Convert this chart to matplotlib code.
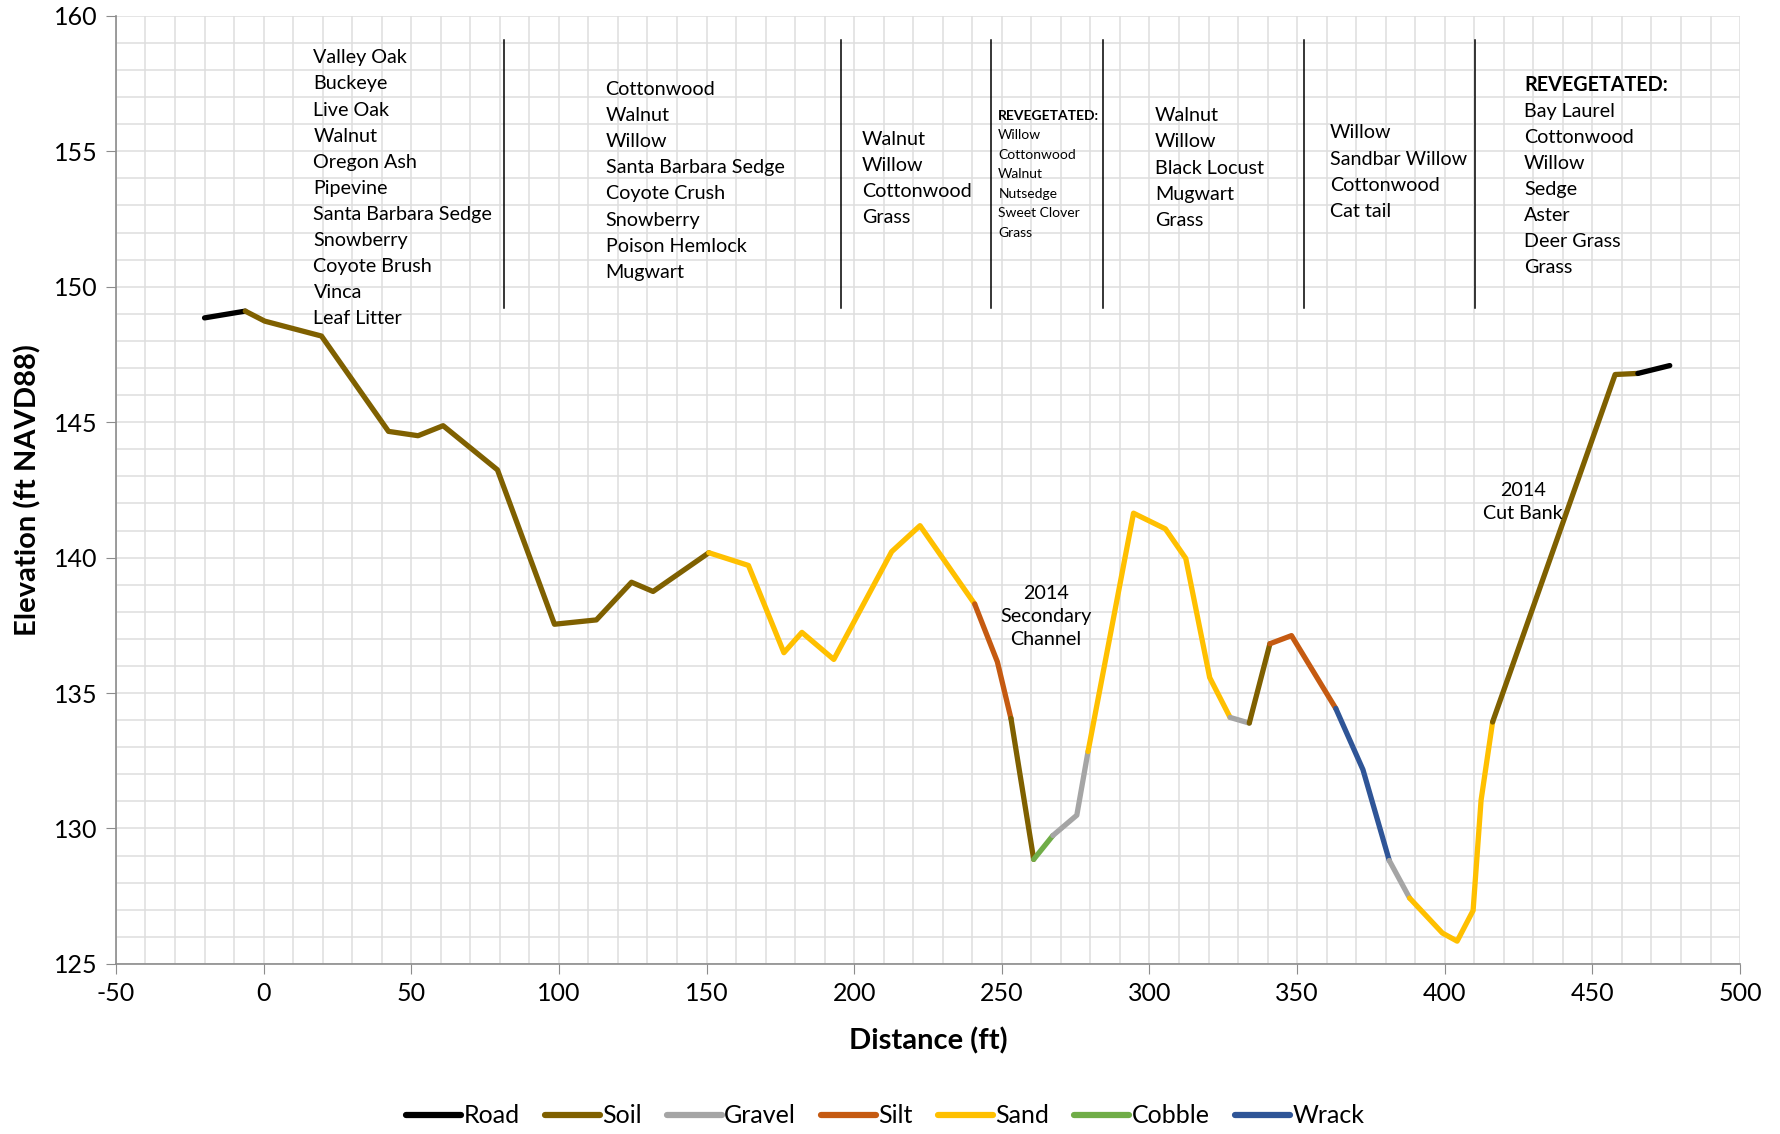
import numpy as np
import matplotlib.pyplot as plt
from matplotlib.lines import Line2D
from matplotlib.ticker import MultipleLocator

plt.rcParams['font.family'] = ['Lato', 'DejaVu Sans']
plt.rcParams['axes.unicode_minus'] = False

# cross-section profile (ft)
dist = [-20, -6.2, 0.4, 19.6, 42.3, 52.3, 60.8, 79.2, 98.5, 112.7, 124.6, 131.9,
        150.8, 164.2, 176.2, 182.3, 193.1, 212.7, 222.3, 240.8, 248.5, 253.1,
        260.8, 267.3, 275.4, 279.2, 294.6, 305.4, 312.3, 320.4, 327.3, 333.8,
        340.8, 348.1, 363.1, 372.3, 381.2, 388.1, 399.2, 404.2, 409.6, 412.3,
        416.2, 457.7, 465.4, 476.2]
elev = [148.85, 149.1, 148.73, 148.18, 144.66, 144.5, 144.87, 143.24, 137.54,
        137.7, 139.09, 138.75, 140.18, 139.71, 136.49, 137.24, 136.24, 140.22,
        141.18, 138.29, 136.15, 134.06, 128.86, 129.74, 130.49, 132.84, 141.64,
        141.06, 139.97, 135.57, 134.1, 133.89, 136.82, 137.12, 134.43, 132.17,
        128.82, 127.43, 126.14, 125.84, 126.97, 131.04, 133.93, 146.76, 146.8,
        147.09]

# material of each run of segments (material, number of segments)
runs = [('Road', 1), ('Soil', 11), ('Sand', 7), ('Silt', 2), ('Soil', 1),
        ('Cobble', 1), ('Gravel', 2), ('Sand', 5), ('Gravel', 1), ('Soil', 1),
        ('Silt', 2), ('Wrack', 2), ('Gravel', 1), ('Sand', 5), ('Soil', 2),
        ('Road', 1)]

materials = ['Road', 'Soil', 'Gravel', 'Silt', 'Sand', 'Cobble', 'Wrack']
colors = {'Road': '#000000', 'Soil': '#7F6000', 'Gravel': '#A5A5A5',
          'Silt': '#C55A11', 'Sand': '#FFC000', 'Cobble': '#70AD47',
          'Wrack': '#2F5597'}

# vegetation zone boundaries
zone_x = [81.5, 195.4, 246.2, 284.2, 352.3, 410.4]
zone_top, zone_bot = 159.1, 149.2

veg_blocks = [
    (16.9, 158.45, ['Valley Oak', 'Buckeye', 'Live Oak', 'Walnut', 'Oregon Ash',
                    'Pipevine', 'Santa Barbara Sedge', 'Snowberry', 'Coyote Brush',
                    'Vinca', 'Leaf Litter'], False),
    (115.8, 157.28, ['Cottonwood', 'Walnut', 'Willow', 'Santa Barbara Sedge',
                     'Coyote Crush', 'Snowberry', 'Poison Hemlock', 'Mugwart'], False),
    (202.7, 155.43, ['Walnut', 'Willow', 'Cottonwood', 'Grass'], False),
    (248.8, 156.31, ['REVEGETATED:', 'Willow', 'Cottonwood', 'Walnut', 'Nutsedge',
                     'Sweet Clover', 'Grass'], True),
    (301.9, 156.31, ['Walnut', 'Willow', 'Black Locust', 'Mugwart', 'Grass'], False),
    (361.2, 155.68, ['Willow', 'Sandbar Willow', 'Cottonwood', 'Cat tail'], False),
    (426.9, 157.44, ['REVEGETATED:', 'Bay Laurel', 'Cottonwood', 'Willow', 'Sedge',
                     'Aster', 'Deer Grass', 'Grass'], False),
]

fig = plt.figure(figsize=(17.81, 11.34), dpi=100)
ax = fig.add_axes([0.0651, 0.150, 0.9119, 0.836])

ax.set_xlim(-50, 500)
ax.set_ylim(125, 160)
ax.xaxis.set_major_locator(MultipleLocator(50))
ax.xaxis.set_minor_locator(MultipleLocator(10))
ax.yaxis.set_major_locator(MultipleLocator(5))
ax.yaxis.set_minor_locator(MultipleLocator(1))
ax.grid(True, which='both', color='#dedede', lw=1.1, zorder=0)
ax.set_axisbelow(True)
for s in ['top', 'right']:
    ax.spines[s].set_visible(False)
for s in ['left', 'bottom']:
    ax.spines[s].set_color('#8c8c8c')
    ax.spines[s].set_linewidth(1.2)
ax.tick_params(which='major', direction='out', length=7, color='#8c8c8c',
               labelsize=18, pad=6)
ax.tick_params(which='minor', length=0)

# profile, coloured by surface material
i = 0
for mat, n in runs:
    ax.plot(dist[i:i + n + 1], elev[i:i + n + 1], color=colors[mat], lw=3.8,
            solid_capstyle='round', solid_joinstyle='round', zorder=3)
    i += n

for zx in zone_x:
    ax.plot([zx, zx], [zone_bot, zone_top], color='black', lw=1.1, zorder=2)

big_step = 0.964
small_step = 0.72
for x0, y0, lines, small in veg_blocks:
    step = small_step if small else big_step
    for k, line in enumerate(lines):
        bold = line.startswith('REVEGETATED')
        ax.text(x0, y0 - k * step, line, va='center', ha='left',
                fontsize=10 if small else 14.2,
                fontweight='bold' if bold else 'normal')

ax.text(265, 137.83, '2014\nSecondary\nChannel', ha='center', va='center',
        fontsize=14.2, linespacing=1.45)
ax.text(426.5, 142.04, '2014\nCut Bank', ha='center', va='center',
        fontsize=14.2, linespacing=1.45)

ax.set_xlabel('Distance (ft)', fontsize=21, fontweight='bold', labelpad=16)
ax.set_ylabel('Elevation (ft NAVD88)', fontsize=21, fontweight='bold', labelpad=9)

handles = [Line2D([0], [0], color=colors[m], lw=4.5, solid_capstyle='round')
           for m in materials]
fig.legend(handles, materials, loc='lower center', bbox_to_anchor=(0.497, -0.014),
           ncol=7, frameon=False, fontsize=18, handlelength=2.2,
           handletextpad=0.1, columnspacing=1.0)

fig.savefig('out.png', dpi=100)
